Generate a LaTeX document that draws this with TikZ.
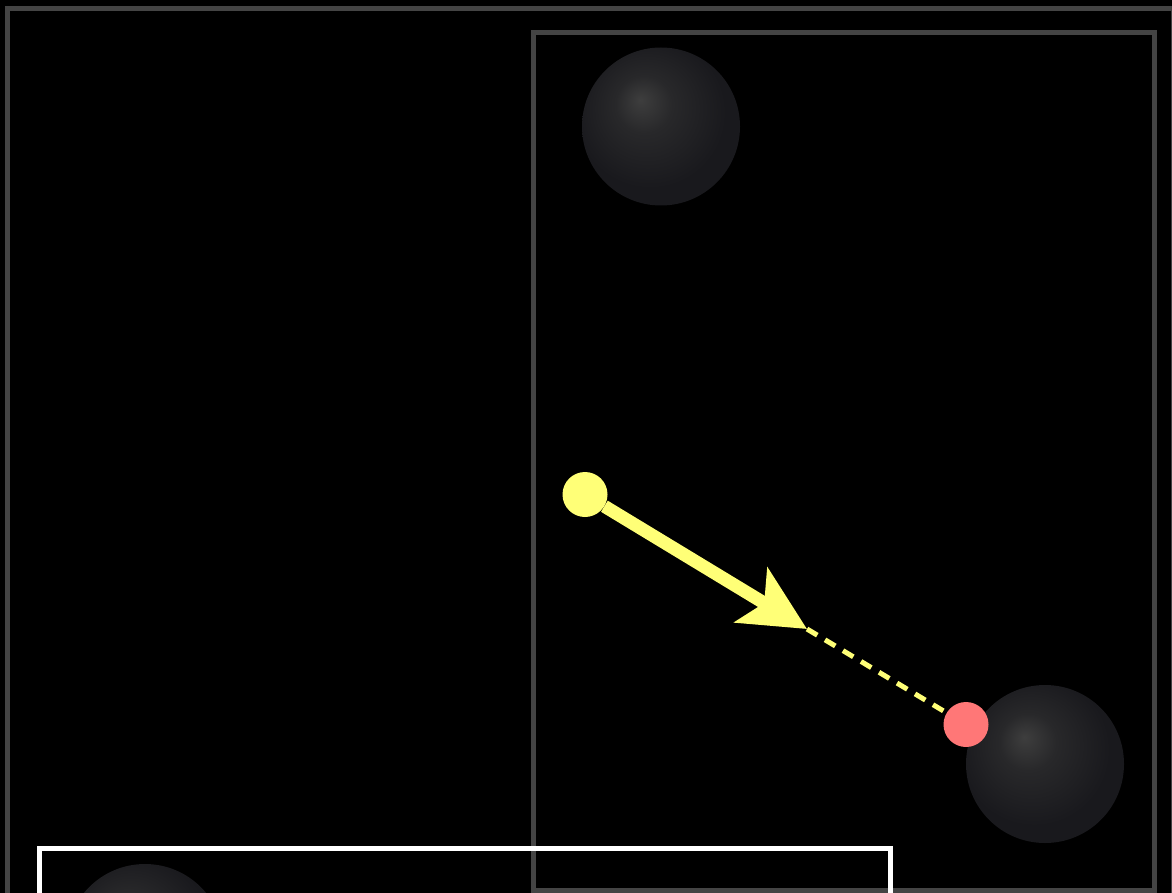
\documentclass[tikz,border=0pt]{standalone}
\usetikzlibrary{arrows.meta}
\definecolor{framegray}{RGB}{68,68,68}
\definecolor{dotyellow}{RGB}{255,255,119}
\definecolor{dotred}{RGB}{255,119,119}
\definecolor{sphhi}{RGB}{62,62,62}
\definecolor{sphmid}{RGB}{40,40,42}
\definecolor{sphedge}{RGB}{25,25,29}
\pgfdeclareradialshading{sphere}{\pgfpoint{-6.6bp}{8.5bp}}{color(0bp)=(sphhi); color(9bp)=(sphmid); color(24bp)=(sphedge); color(50bp)=(sphedge)}
\begin{document}
\begin{tikzpicture}[x=1pt,y=1pt,
  frame/.style={draw=framegray,line width=5pt},
  ball/.style={circle,minimum size=158pt,inner sep=0pt,shade,shading=sphere,draw=none},
  dotnode/.style={circle,minimum size=45pt,inner sep=0pt,draw=none}]
\fill[black] (0,0) rectangle (1172,-893);
\useasboundingbox (0,0) rectangle (1172,-893);
\clip (0,0) rectangle (1172,-893);
\draw[frame] (7.5,-8.5) rectangle (1173,-920);
\draw[frame] (533,-32.5) rectangle (1154.5,-890.5);
\draw[white,line width=5pt] (39.5,-848.5) rectangle (890.5,-960);
\node[ball] (s1) at (661,-126.5) {};
\node[ball] (s2) at (1045,-764) {};
\node[ball] (s3) at (145,-943) {};
\node[dotnode,fill=dotyellow] (y) at (585,-494.5) {};
\node[dotnode,fill=dotred] (r) at (966,-724.5) {};
\coordinate (tip) at (807,-629);
\draw[dotyellow,line width=13pt,-{Stealth[length=65pt,width=63pt,inset=15pt]}] (y) -- (tip);
\draw[dotyellow,line width=5pt,dash pattern=on 12pt off 9pt] (tip) -- (r);
\end{tikzpicture}
\end{document}
